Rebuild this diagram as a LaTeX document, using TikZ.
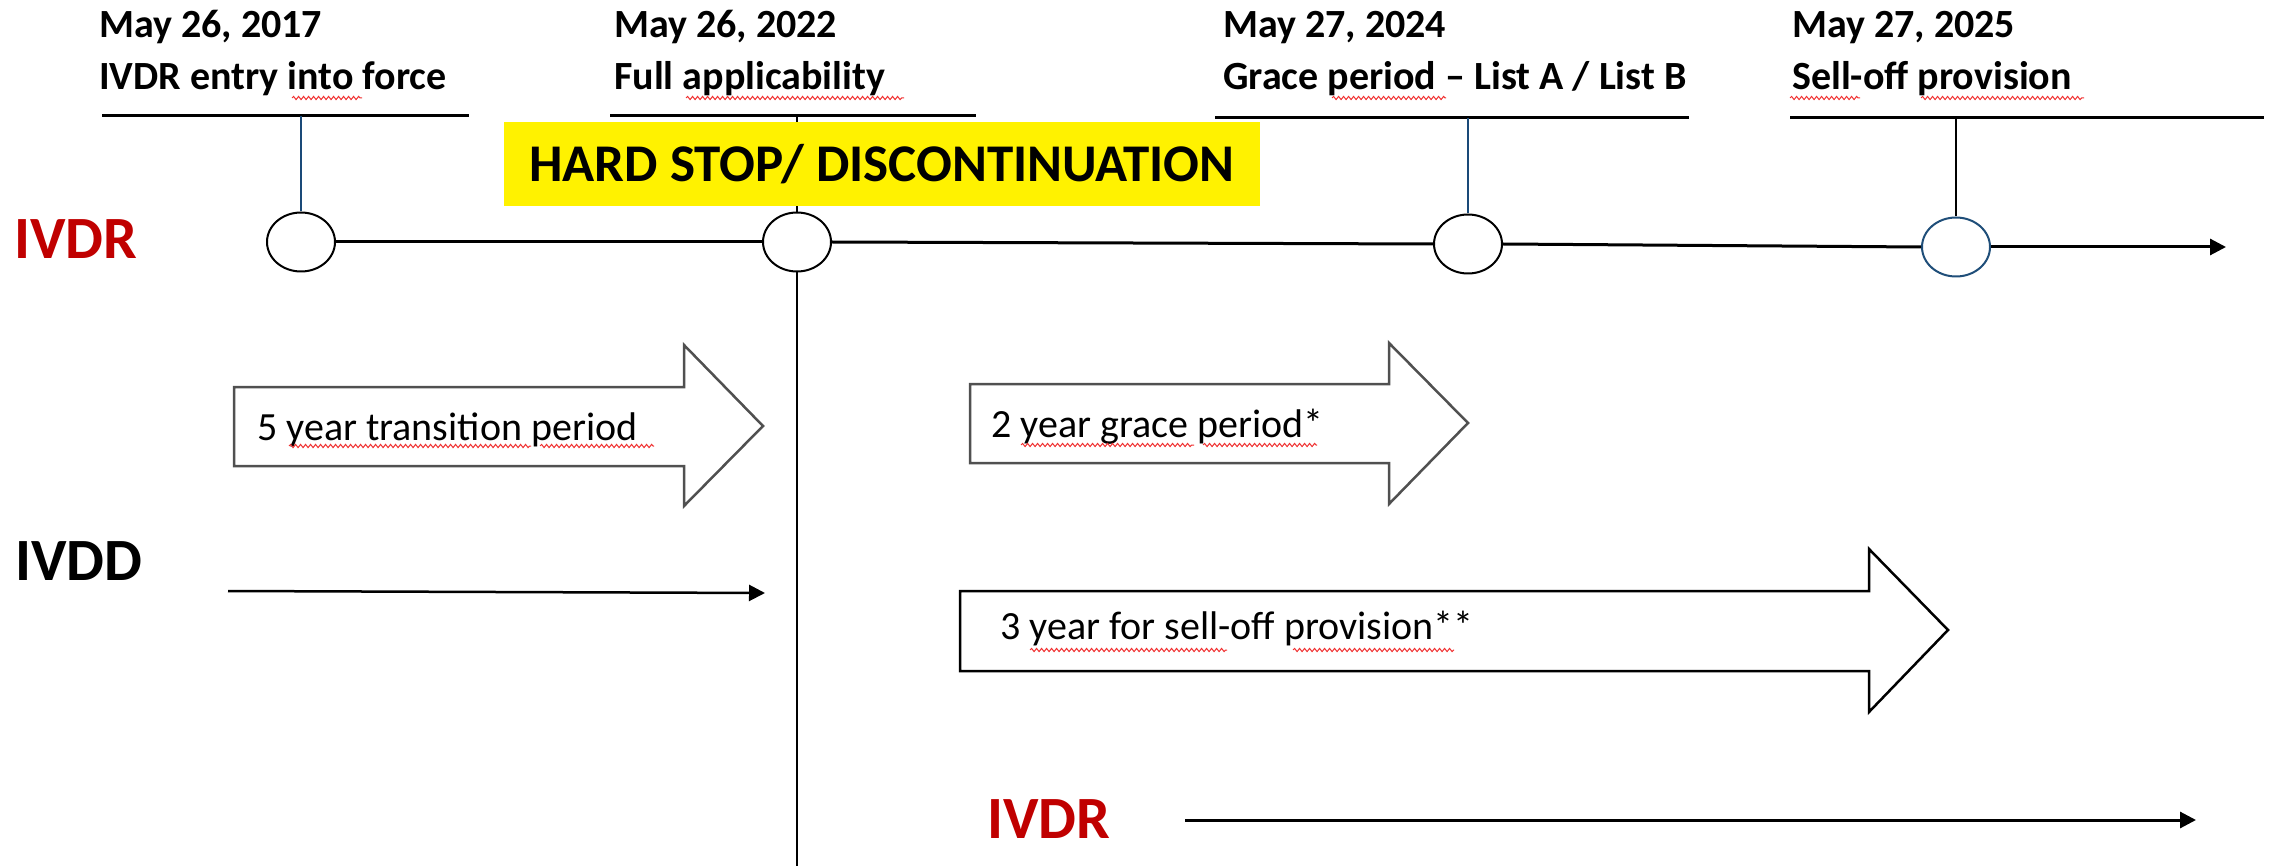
\documentclass[tikz,border=0pt]{standalone}
\usepackage{fontspec}
\setmainfont{Carlito}
\usetikzlibrary{shapes.geometric,arrows.meta,decorations.pathmorphing}
\definecolor{ivdrred}{HTML}{C00000}
\definecolor{navy}{HTML}{1A4A78}
\definecolor{circblue}{HTML}{1F4E79}
\definecolor{blkgray}{HTML}{505050}
\definecolor{squig}{HTML}{F03030}
\begin{document}
\begin{tikzpicture}[x=1pt,y=-1pt,
  hdr/.style={anchor=base west, inner sep=0, font=\fontsize{40}{48}\selectfont\bfseries},
  txt/.style={anchor=base west, inner sep=0, font=\fontsize{40}{48}\selectfont},
  lbl/.style={anchor=base west, inner sep=0, font=\fontsize{60}{72}\selectfont\bfseries},
  hline/.style={line width=3pt},
  ev/.style={ellipse, draw, fill=white, minimum width=68pt, minimum height=59pt, inner sep=0, line width=2pt},
  tl/.style={line width=3pt},
  blk/.style={draw=blkgray, fill=white, line width=2.5pt, line join=miter},
  sq/.style={squig, line width=1pt, decorate, decoration={snake, amplitude=1.6pt, segment length=5pt}},
  tip/.style={-{Triangle[length=16pt,width=16pt]}}
]
\useasboundingbox (0,0) rectangle (2275,866);

% main vertical line (hard stop)
\coordinate (vtop) at (797,116);
\coordinate (vbot) at (797,866);
\draw[line width=2.5pt] (vtop) -- (vbot);

% header lines
\coordinate (h1a) at (102,116); \coordinate (h1b) at (469,116); \coordinate (h1m) at (301,116);
\coordinate (h2a) at (610,116); \coordinate (h2b) at (976,116);
\coordinate (h3a) at (1215,118); \coordinate (h3b) at (1689,118); \coordinate (h3m) at (1468,118);
\coordinate (h4a) at (1790,118); \coordinate (h4b) at (2264,118); \coordinate (h4m) at (1956,118);
\draw[hline] (h1a) -- (h1b);
\draw[hline] (h2a) -- (h2b);
\draw[hline] (h3a) -- (h3b);
\draw[hline] (h4a) -- (h4b);

% header texts
\node[hdr] (d1) at (99,38) {May 26, 2017};
\node[hdr] (t1) at (99,90) {IVDR entry into force};
\node[hdr] (d2) at (614,38) {May 26, 2022};
\node[hdr] (t2) at (614,90) {Full applicability};
\node[hdr] (d3) at (1223,38) {May 27, 2024};
\node[hdr] (t3) at (1223,90) {Grace period -- List A / List B};
\node[hdr] (d4) at (1792,38) {May 27, 2025};
\node[hdr] (t4) at (1792,90) {Sell-off provision};

% hard stop box
\node[fill=yellow, minimum width=756pt, minimum height=84pt, inner sep=0,
      font=\fontsize{53}{60}\selectfont\bfseries] (hs) at (882,164) {HARD STOP/ DISCONTINUATION};

% circles
\node[ev] (c1) at (301,242) {};
\node[ev] (c2) at (797,242) {};
\node[ev] (c3) at (1468,244) {};
\node[ev, draw=circblue] (c4) at (1956,247) {};
\coordinate (tlend) at (2226,247);

% connectors from header lines
\draw[navy, line width=2pt] (h1m) -- (c1.north);
\draw[navy, line width=2pt] (h3m) -- (c3.north);
\draw[line width=2.5pt] (h4m) -- (c4.north);

% timeline
\draw[tl] (c1.east) -- (c2.west);
\draw[tl] (c2.east) -- (c3.west);
\draw[tl] (c3.east) -- (c4.west);
\draw[tl, tip] (c4.east) -- (tlend);

% labels
\node[lbl, text=ivdrred] (ivdr1) at (14,259) {IVDR};
\node[lbl] (ivdd) at (15,580) {IVDD};
\node[lbl, text=ivdrred] (ivdr2) at (987,838) {IVDR};

% block arrows
\draw[blk] (234,387) -- (684,387) -- (684,345) -- (763,426) -- (684,506) -- (684,466) -- (234,466) -- cycle;
\draw[blk] (970,384) -- (1389,384) -- (1389,343) -- (1468,423) -- (1389,504) -- (1389,463) -- (970,463) -- cycle;
\draw[blk, draw=black] (960,591) -- (1869,591) -- (1869,549) -- (1948,630) -- (1869,712) -- (1869,671) -- (960,671) -- cycle;

\node[txt] (a1) at (257,440) {5 year transition period};
\node[txt] (a2) at (991,437) {2 year grace period*};
\node[txt] (a3) at (1000,639) {3 year for sell-off provision**};

% plain arrows
\coordinate (dd1) at (228,591); \coordinate (dd2) at (765,593);
\draw[line width=2.5pt, tip] (dd1) -- (dd2);
\coordinate (rr1) at (1185,820); \coordinate (rr2) at (2196,820);
\draw[line width=3pt, tip] (rr1) -- (rr2);

% spell-check squiggles
\draw[sq] (292,98) -- (362,98);
\draw[sq] (686,98) -- (904,98);
\draw[sq] (1332,98) -- (1446,98);
\draw[sq] (1790,98) -- (1860,98);
\draw[sq] (1921,98) -- (2084,98);
\draw[sq] (289,446) -- (531,446);
\draw[sq] (540,446) -- (654,446);
\draw[sq] (1021,445) -- (1194,445);
\draw[sq] (1203,445) -- (1317,445);
\draw[sq] (1030,650) -- (1227,650);
\draw[sq] (1293,650) -- (1454,650);
\end{tikzpicture}
\end{document}
